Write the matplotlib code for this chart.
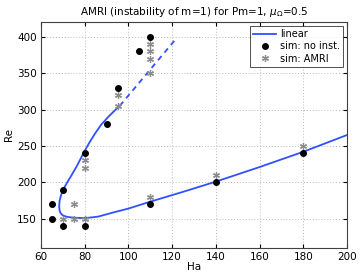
import matplotlib
matplotlib.use('Agg')
import matplotlib.pyplot as plt

# linear stability curve (solid part), ordered along the curve
lin_ha = [200, 180, 160, 140, 125, 110, 100, 93, 86.2, 83, 79.4, 76, 72.5, 71, 69.8, 69.0, 68.5, 68.3,
          68.5, 69.2, 70.3, 72.0, 74.0, 76.5, 79.4, 82.0, 84.7, 87.6, 90.8, 93.5, 96]
lin_re = [265, 242, 221, 201, 187, 173.5, 164, 158.6, 153, 151.8, 151, 151.3, 152.3, 153.4, 155, 157.5, 161, 167,
          175, 183, 191, 200, 210, 223, 240, 254, 267, 279.5, 290, 298, 305]
# dashed extension
dash_ha = [96, 122]
dash_re = [305, 398]

# simulations without instability
noinst_ha = [65, 65, 70, 70, 80, 80, 90, 95, 105, 110, 110, 140, 180]
noinst_re = [150, 170, 140, 190, 140, 240, 280, 330, 380, 400, 170, 200, 240]

# simulations with AMRI
amri_ha = [70, 75, 80, 75, 80, 80, 95, 95, 110, 110, 110, 110, 110, 140, 180]
amri_re = [150, 150, 150, 170, 220, 230, 305, 320, 350, 370, 380, 390, 180, 210, 250]

plt.rcParams['font.family'] = 'DejaVu Sans'
fig = plt.figure(figsize=(3.6, 2.73), dpi=100)
ax = fig.add_axes([0.114, 0.092, 0.85, 0.827])

blue = '#3050ff'
ax.plot(lin_ha, lin_re, color=blue, lw=1.3, label='linear', zorder=3)
ax.plot(dash_ha, dash_re, color=blue, lw=1.3, ls=(0, (3, 2.5)), zorder=3)
ax.plot(noinst_ha, noinst_re, 'o', color='black', ms=4, ls='none', label='sim: no inst.', zorder=4)
ax.plot(amri_ha, amri_re, marker=(6, 2, 0), color='#8c8c8c', ms=5, mew=0.9, ls='none',
        label='sim: AMRI', zorder=4)

ax.set_xlim(60, 200)
ax.set_ylim(110, 420)
ax.set_xticks(range(60, 201, 20))
ax.set_yticks(range(150, 401, 50))
ax.tick_params(direction='in', labelsize=7.5, length=3, top=True, right=True, pad=3)
ax.grid(True, linestyle=(0, (1, 2)), color='#b8b8b8', lw=0.7)
ax.set_xlabel('Ha', fontsize=7.5, labelpad=0)
ax.set_ylabel('Re', fontsize=7.5, labelpad=2)
ax.set_title(r'AMRI (instability of m=1) for Pm=1, $\mu_\Omega$=0.5', fontsize=7.5, pad=5)
for s in ax.spines.values():
    s.set_linewidth(0.8)
    s.set_color('#404040')

leg = ax.legend(loc='upper right', fontsize=7, frameon=True, fancybox=False, edgecolor='black',
                handlelength=2.4, borderpad=0.3, labelspacing=0.25, handletextpad=0.4,
                borderaxespad=0.4)
leg.get_frame().set_linewidth(0.6)

fig.savefig('out.png', dpi=100)
